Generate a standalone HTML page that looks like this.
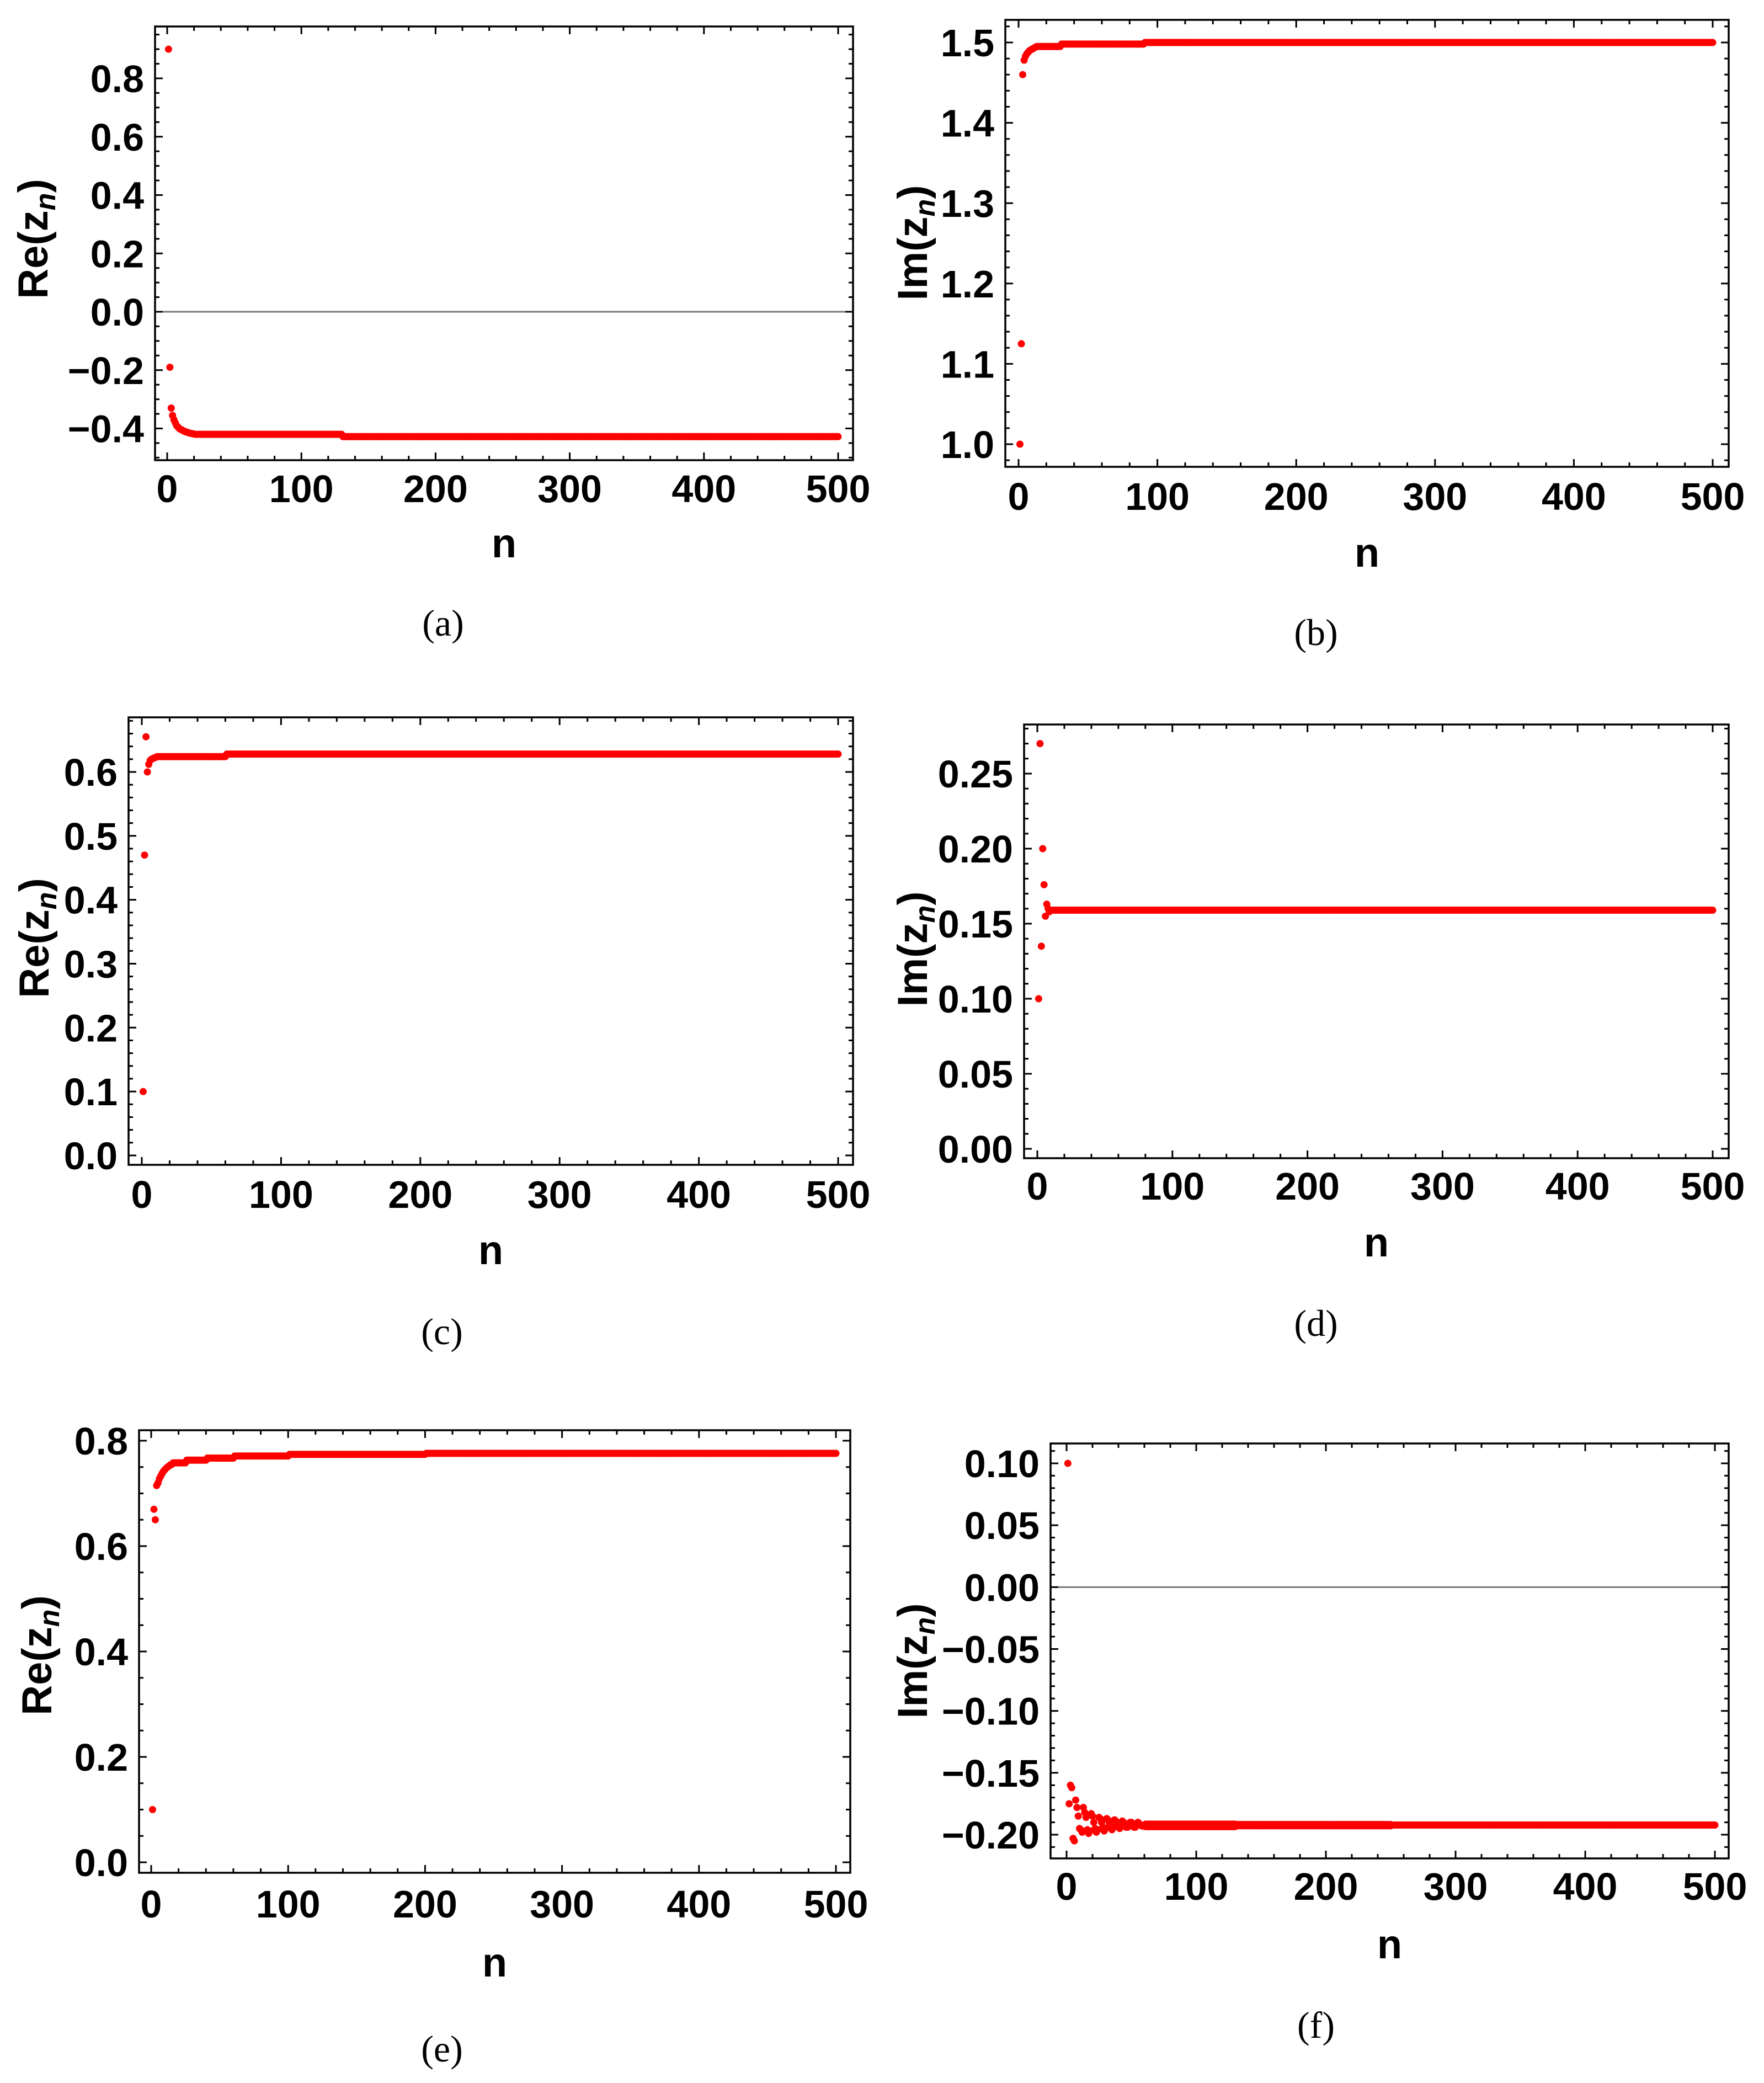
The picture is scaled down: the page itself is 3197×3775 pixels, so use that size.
<!DOCTYPE html>
<html><head><meta charset="utf-8"><style>
html,body{margin:0;padding:0;background:#fff;}
svg{display:block;}
</style></head><body>
<svg id="fig" width="3197" height="3775" viewBox="0 0 3197 3775" xmlns="http://www.w3.org/2000/svg"></svg>
<script>
// ---- data ----
const nTickLabels = [0, 100, 200, 300, 400, 500];
// panel a: Re(z_n)
const aHead = [0.90, -0.19, -0.33, -0.355, -0.37, -0.38, -0.39, -0.395, -0.40, -0.403, -0.405, -0.408, -0.41, -0.412, -0.413, -0.415, -0.416, -0.417, -0.418, -0.419];
const aPlateaus = [[21, 130, -0.42], [131, 500, -0.428]];
const aTicks = [-0.4, -0.2, 0.0, 0.2, 0.4, 0.6, 0.8];
const aTickLabels = ["\u22120.4", "\u22120.2", "0.0", "0.2", "0.4", "0.6", "0.8"];
// panel b: Im(z_n)
const bHead = [1.0, 1.125, 1.46, 1.478, 1.483, 1.486, 1.488, 1.49, 1.491, 1.492, 1.493, 1.494];
const bPlateaus = [[13, 30, 1.495], [31, 90, 1.498], [91, 500, 1.5]];
const bTicks = [1.0, 1.1, 1.2, 1.3, 1.4, 1.5];
const bTickLabels = ["1.0", "1.1", "1.2", "1.3", "1.4", "1.5"];
// panel c: Re(z_n)
const cHead = [0.10, 0.47, 0.655, 0.60, 0.612, 0.618, 0.62, 0.621, 0.622, 0.623];
const cPlateaus = [[11, 60, 0.624], [61, 500, 0.628]];
const cTicks = [0.0, 0.1, 0.2, 0.3, 0.4, 0.5, 0.6];
const cTickLabels = ["0.0", "0.1", "0.2", "0.3", "0.4", "0.5", "0.6"];
// panel d: Im(z_n)
const dHead = [0.10, 0.27, 0.135, 0.20, 0.176, 0.155, 0.163, 0.160, 0.158, 0.159];
const dPlateaus = [[11, 500, 0.159]];
const dTicks = [0.00, 0.05, 0.10, 0.15, 0.20, 0.25];
const dTickLabels = ["0.00", "0.05", "0.10", "0.15", "0.20", "0.25"];
// panel e: Re(z_n)
const eHead = [0.10, 0.67, 0.65, 0.715, 0.72, 0.728, 0.733, 0.738, 0.742, 0.745, 0.748, 0.75, 0.752, 0.754, 0.755];
const ePlateaus = [[16, 25, 0.758], [26, 40, 0.763], [41, 60, 0.767], [61, 100, 0.771], [101, 200, 0.774], [201, 500, 0.776]];
const eTicks = [0.0, 0.2, 0.4, 0.6, 0.8];
const eTickLabels = ["0.0", "0.2", "0.4", "0.6", "0.8"];
// panel f: Im(z_n)
const fHead = [0.10, -0.175, -0.160, -0.162, -0.203, -0.205, -0.172, -0.178, -0.185, -0.195, -0.196, -0.198, -0.178, -0.182, -0.186, -0.196,
  -0.199, -0.197, -0.183, -0.185, -0.190, -0.195, -0.198, -0.196, -0.186, -0.187, -0.190, -0.194, -0.197, -0.195, -0.187, -0.188,
  -0.191, -0.194, -0.196, -0.194, -0.188, -0.189, -0.191, -0.194, -0.195, -0.193, -0.189, -0.190, -0.192, -0.194, -0.194, -0.193,
  -0.190, -0.190, -0.192, -0.194, -0.194, -0.192, -0.190, -0.191, -0.192, -0.193, -0.193, -0.192];
const fPlateaus = [[61, 130, -0.1915], [61, 130, -0.1935], [131, 250, -0.1918], [131, 250, -0.1928], [251, 500, -0.1922]];
const fTicks = [-0.20, -0.15, -0.10, -0.05, 0.00, 0.05, 0.10];
const fTickLabels = ["\u22120.20", "\u22120.15", "\u22120.10", "\u22120.05", "0.00", "0.05", "0.10"];

const NS = "http://www.w3.org/2000/svg";
const svg = document.getElementById('fig');
function mk(tag, attrs, parent) {
  const e = document.createElementNS(NS, tag);
  for (const k in attrs) e.setAttribute(k, attrs[k]);
  (parent || svg).appendChild(e);
  return e;
}
function series(head, plateaus) {
  const out = [];
  head.forEach((v, i) => out.push([i + 1, v]));
  plateaus.forEach(p => { for (let n = p[0]; n <= p[1]; n++) out.push([n, p[2]]); });
  return out;
}

function panel(cfg) {
  const g = mk('g', {});
  
  
  const xs = v => cfg.x0 + (v - 0) * (cfg.x500 - cfg.x0) / 500;
  const ys = v => cfg.yA + (v - cfg.vA) * (cfg.yB - cfg.yA) / (cfg.vB - cfg.vA);
  if (cfg.zero) {
    const z = mk('line', {x1: cfg.L, x2: cfg.R, y1: ys(0), y2: ys(0), stroke: '#777', 'stroke-width': 3}, g);
    
    
  }
  const pg = mk('g', {fill: '#ff0000'}, g);
  
  
  cfg.data.forEach(d => {
    const c = mk('circle', {cx: xs(d[0]).toFixed(1), cy: ys(d[1]).toFixed(1), r: 6.5}, pg);
    
    
  });
  const fr = mk('rect', {x: cfg.L, y: cfg.T, width: cfg.R - cfg.L, height: cfg.B - cfg.T, fill: 'none', stroke: '#000', 'stroke-width': 3.5}, g);
  
  
  const tg = mk('g', {stroke: '#000', 'stroke-width': 3}, g);
  
  
  for (let v = 0; v <= 500; v += 20) {
    const X = xs(v); if (X < cfg.L || X > cfg.R) continue;
    const len = (v % 100 === 0) ? 14 : 8;
    mk('line', {x1: X, x2: X, y1: cfg.B, y2: cfg.B - len}, tg);
    mk('line', {x1: X, x2: X, y1: cfg.T, y2: cfg.T + len}, tg);
  }
  const step = cfg.ticks[1] - cfg.ticks[0];
  const minor = step / cfg.minorN;
  const lo = cfg.ticks[0] - 3 * step, hi = cfg.ticks[cfg.ticks.length - 1] + 3 * step;
  for (let k = 0; lo + k * minor <= hi + 1e-9; k++) {
    const v = lo + k * minor;
    const Y = ys(v); if (Y < cfg.T || Y > cfg.B) continue;
    const len = (k % cfg.minorN === 0) ? 14 : 8;
    mk('line', {x1: cfg.L, x2: cfg.L + len, y1: Y, y2: Y}, tg);
    mk('line', {x1: cfg.R, x2: cfg.R - len, y1: Y, y2: Y}, tg);
  }
  nTickLabels.forEach(v => {
    const t = mk('text', {x: xs(v), y: cfg.xlabY + 25, 'text-anchor': 'middle', 'font-family': 'Liberation Sans, sans-serif', 'font-weight': 'bold', 'font-size': 70}, g);
    t.textContent = v;
    
    
  });
  cfg.ticks.forEach((v, i) => {
    const t = mk('text', {x: cfg.L - 20, y: ys(v) + 25, 'text-anchor': 'end', 'font-family': 'Liberation Sans, sans-serif', 'font-weight': 'bold', 'font-size': 70}, g);
    t.textContent = cfg.tickLabels[i];
    
    
  });
  const nx = mk('text', {x: (cfg.L + cfg.R) / 2, y: cfg.nY + 22, 'text-anchor': 'middle', 'font-family': 'Liberation Sans, sans-serif', 'font-weight': 'bold', 'font-size': 74}, g);
  nx.textContent = 'n';
  
  
  const yt = mk('text', {x: 0, y: 0, transform: `translate(${cfg.ylX + 26},${cfg.ylY}) rotate(-90)`, 'text-anchor': 'middle', 'font-family': 'Liberation Sans, sans-serif', 'font-weight': 'bold', 'font-size': 76}, g);
  
  
  const s1 = mk('tspan', {}, yt); s1.textContent = cfg.ytitle + '(z';
  const s2 = mk('tspan', {'font-style': 'italic', 'font-size': 52, dy: 14}, yt); s2.textContent = 'n';
  const s3 = mk('tspan', {dy: -14}, yt); s3.textContent = ')';
  const pl = mk('text', {x: cfg.plX, y: cfg.plY + 22, 'text-anchor': 'middle', 'font-family': 'Liberation Serif, serif', 'font-size': 68}, g);
  pl.textContent = '(' + cfg.id + ')';
  
  
}

panel({id:'a', L:281, R:1546, T:48, B:834, x0:303, x500:1519, vA:0.8, yA:142, vB:0, yB:565, ticks:aTicks, tickLabels:aTickLabels, minorN:4, zero:true,
  data:series(aHead, aPlateaus), xlabY:885, nY:988, plX:803, plY:1130, ylX:60, ylY:433, ytitle:'Re'});
panel({id:'b', L:1822, R:3133, T:36, B:846, x0:1846, x500:3104, vA:1.5, yA:77, vB:1.0, yB:805, ticks:bTicks, tickLabels:bTickLabels, minorN:5, zero:false,
  data:series(bHead, bPlateaus), xlabY:899, nY:1005, plX:2385, plY:1147, ylX:1654, ylY:440, ytitle:'Im'});
panel({id:'c', L:233, R:1546, T:1300, B:2111, x0:257, x500:1519, vA:0.6, yA:1399, vB:0, yB:2094, ticks:cTicks, tickLabels:cTickLabels, minorN:5, zero:false,
  data:series(cHead, cPlateaus), xlabY:2164, nY:2269, plX:801, plY:2414, ylX:62, ylY:1700, ytitle:'Re'});
panel({id:'d', L:1856, R:3133, T:1313, B:2099, x0:1880, x500:3104, vA:0.25, yA:1402, vB:0, yB:2082, ticks:dTicks, tickLabels:dTickLabels, minorN:5, zero:false,
  data:series(dHead, dPlateaus), xlabY:2149, nY:2255, plX:2385, plY:2399, ylX:1654, ylY:1720, ytitle:'Im'});
panel({id:'e', L:252, R:1541, T:2592, B:3394, x0:274, x500:1515, vA:0.8, yA:2611, vB:0, yB:3375, ticks:eTicks, tickLabels:eTickLabels, minorN:4, zero:false,
  data:series(eHead, ePlateaus), xlabY:3450, nY:3560, plX:801, plY:3714, ylX:67, ylY:3000, ytitle:'Re'});
panel({id:'f', L:1904, R:3133, T:2616, B:3368, x0:1933, x500:3108, vA:0.10, yA:2652, vB:-0.20, yB:3325, ticks:fTicks, tickLabels:fTickLabels, minorN:5, zero:true,
  data:series(fHead, fPlateaus), xlabY:3418, nY:3527, plX:2385, plY:3671, ylX:1654, ylY:3010, ytitle:'Im'});
</script>
</body></html>
